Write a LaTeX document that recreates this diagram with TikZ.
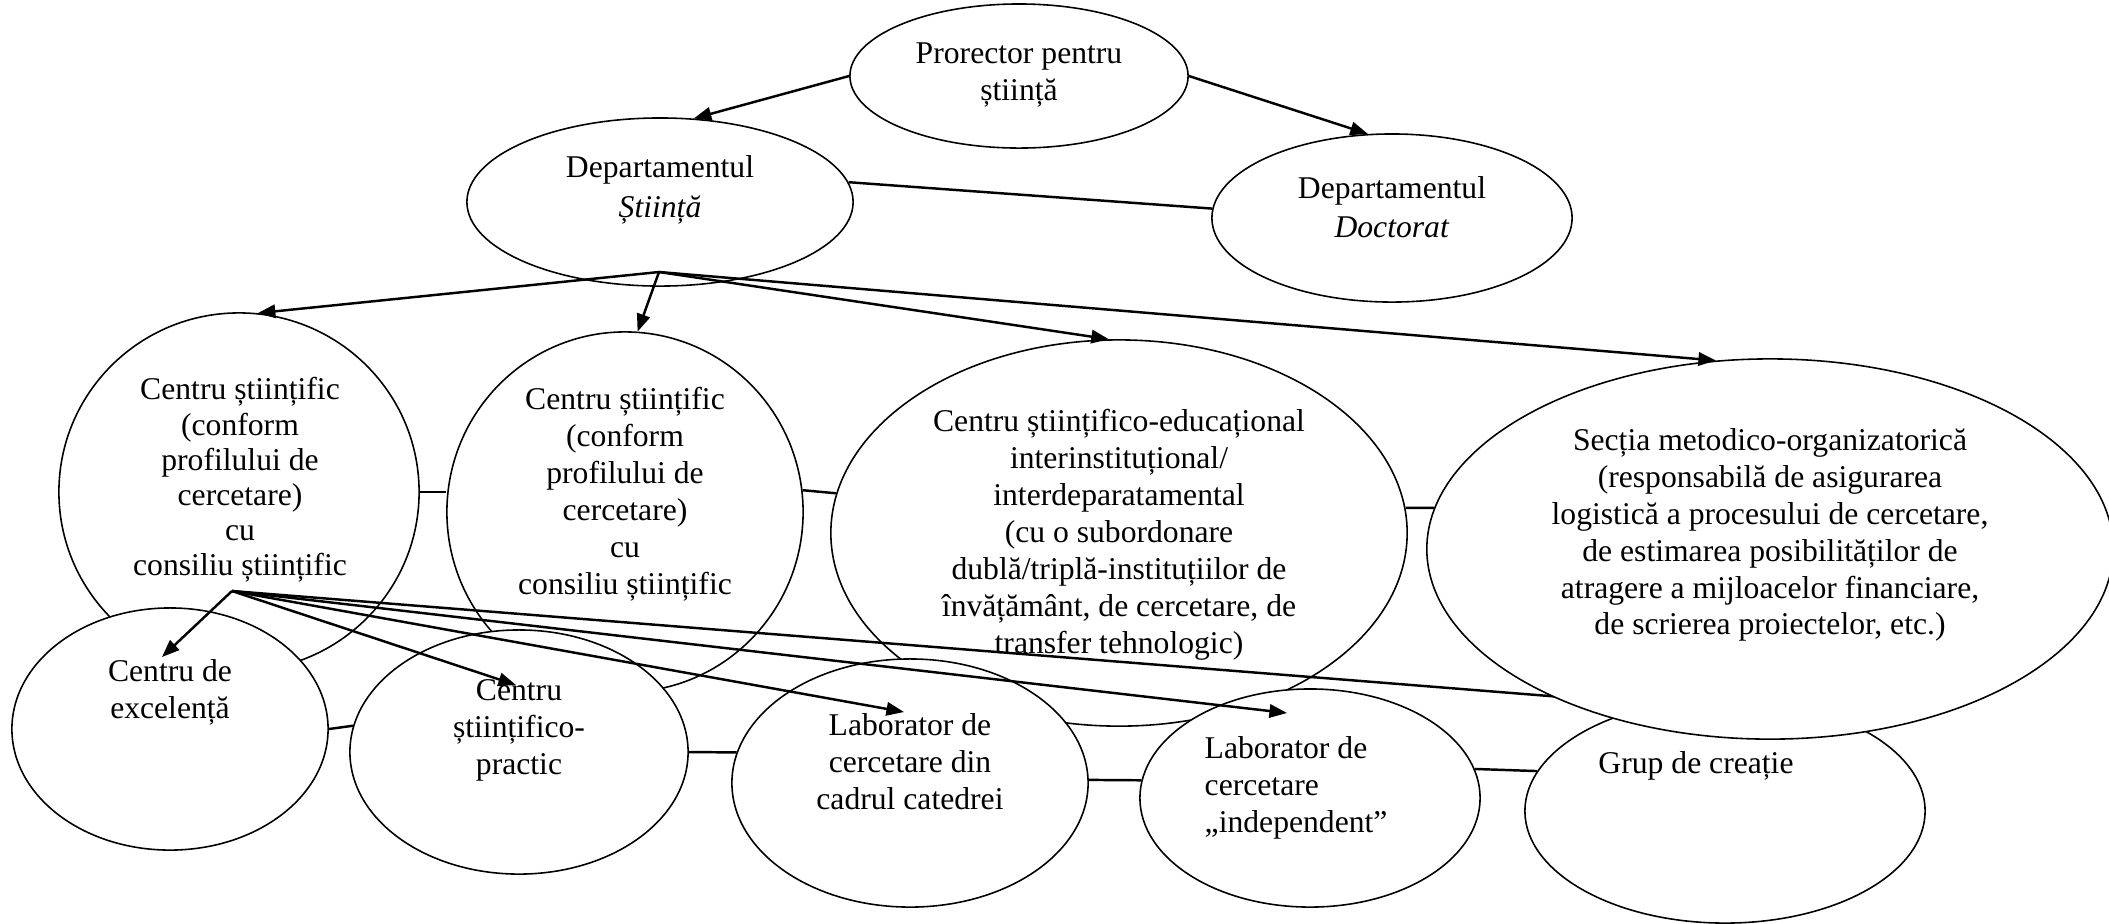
\documentclass[tikz,border=0pt]{standalone}
\usepackage{fontspec}
\setmainfont{Liberation Serif}
\usetikzlibrary{arrows.meta, shapes.geometric, calc}

\begin{document}
\begin{tikzpicture}[x=0.01cm, y=-0.01cm,
    oval/.style={shape=ellipse, draw=black, fill=white, line width=0.45pt, inner sep=0pt},
    txt/.style={align=center, inner sep=0pt, font=\fontsize{9}{10.5}\selectfont},
    arr/.style={line width=0.7pt, -{Triangle[length=5pt, width=3.8pt]}},
    link/.style={line width=0.7pt}]
    \useasboundingbox (0,0) rectangle (2109,923);

    % top level
    \node[oval, minimum width=3.38cm, minimum height=1.44cm] (P) at (1019, 76) {};
    \node[oval, minimum width=3.86cm, minimum height=1.68cm] (S) at ( 660, 202) {};
    \node[oval, minimum width=3.60cm, minimum height=1.68cm] (D) at (1392, 218) {};
    \node[txt] (Pt) at (1019, 75) {Prorector pentru\\știință};
    \node[txt, font=\fontsize{9}{11.2}\selectfont] (St) at ( 660, 190) {Departamentul\\\textit{Știință}};
    \node[txt, font=\fontsize{9}{11.2}\selectfont] (Dt) at (1392, 207) {Departamentul\\\textit{Doctorat}};

    % centres
    \node[oval, minimum width=3.60cm, minimum height=3.58cm] (C1) at ( 239, 492) {};
    \node[oval, minimum width=3.56cm, minimum height=3.60cm] (C2) at ( 625, 512) {};
    \node[oval, minimum width=5.76cm, minimum height=3.86cm] (E)  at (1119, 533) {};
    \node[txt, font=\fontsize{9}{10}\selectfont] (C1t) at ( 240, 480) {Centru științific\\(conform\\profilului de\\cercetare)\\cu\\consiliu științific};
    \node[txt] (C2t) at ( 625, 494) {Centru științific\\(conform\\profilului de\\cercetare)\\cu\\consiliu științific};
    \node[txt] (Et)  at (1119, 535) {Centru științifico-educațional\\interinstituțional/\\interdeparatamental\\(cu o subordonare\\dublă/triplă-instituțiilor de\\învățământ, de cercetare, de\\transfer tehnologic)};

    % bottom row
    \node[oval, minimum width=3.16cm, minimum height=2.42cm] (X) at ( 170, 729) {};
    \node[oval, minimum width=3.38cm, minimum height=2.44cm] (Q) at ( 519, 752) {};
    \node[oval, minimum width=3.56cm, minimum height=2.48cm] (L) at ( 910, 783) {};
    \node[oval, minimum width=3.40cm, minimum height=2.18cm] (I) at (1310, 798) {};
    \node[oval, minimum width=4.00cm, minimum height=2.24cm] (G) at (1725, 811) {};
    \node[txt] (Xt) at ( 170, 692) {Centru de\\excelență};
    \node[txt] (Qt) at ( 519, 730) {Centru\\științifico-\\practic};
    \node[txt] (Lt) at ( 910, 762) {Laborator de\\cercetare din\\cadrul catedrei};
    \node[txt, align=left, anchor=west] (It) at (1204, 788) {Laborator de\\cercetare\\„independent”};
    \node[txt] (Gt) at (1696, 766) {Grup de creație};

    \coordinate (So) at (659, 272);
    \coordinate (Co) at (232, 591);

    \path[arr] (P.west) edge (S.68);
    \path[arr] (P.east) edge (D.106);
    \path[link] (S.6) edge (D.177);
    \path[arr] (So) edge (C1.84);
    \path[arr] (So) edge (C2.86);
    \path[arr] (So) edge (E.93);
    \path[arr] (Co) edge ($(X.center)+(-8,-72)$);
    \path[arr] (Co) edge ($(Q.center)+(-3,-67)$);
    \path[arr] (Co) edge ($(L.center)+(-6,-71)$);
    \path[arr] (Co) edge ($(I.center)+(-23,-85)$);
    \path[arr] (Co) edge ($(G.center)+(-25,-103)$);
    \path[link] (C1.east) edge (C1.east -| C2.west);
    \path[link] (C2.7) edge (E.172);
    \path[link] (X.east) edge (Q.171);
    \path[link] (Q.east) edge (L.170);
    \path[link] (L.1) edge (I.174);
    \path[link] (I.10) edge (G.168);

    % section drawn last, it covers the group
    \node[oval, minimum width=6.86cm, minimum height=3.80cm] (M) at (1770, 549) {};
    \node[txt] (Mt) at (1770, 535) {Secția metodico-organizatorică\\(responsabilă de asigurarea\\logistică a procesului de cercetare,\\de estimarea posibilităților de\\atragere a mijloacelor financiare,\\de scrierea proiectelor, etc.)};
    \path[arr] (So) edge (M.106);
    \path[link] (E.5) edge (M.173);
\end{tikzpicture}
\end{document}
